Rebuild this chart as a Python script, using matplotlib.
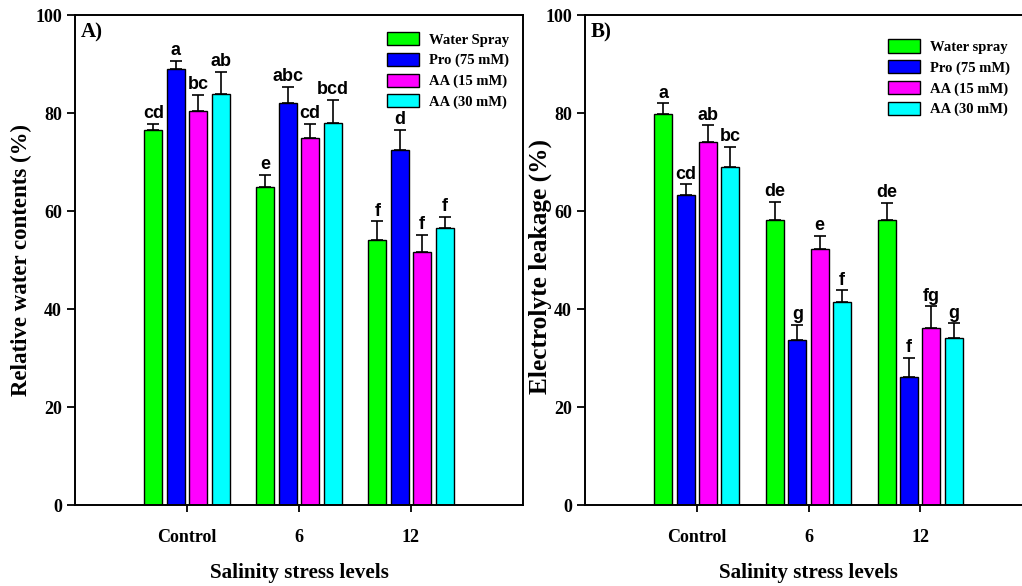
import numpy as np
import matplotlib
matplotlib.use("Agg")
from matplotlib import pyplot as plt

plt.rcParams["font.family"] = "Liberation Serif"
plt.rcParams["font.weight"] = "bold"

groups = ["Control", "6", "12"]
colors = ["#00FF00", "#0000FF", "#FF00FF", "#00FFFF"]

# Panel A - relative water contents
rwc_names = ["Water Spray", "Pro (75 mM)", "AA (15 mM)", "AA (30 mM)"]
rwc_mean = [
    [76.5, 64.9, 54.1],
    [88.9, 82.0, 72.5],
    [80.5, 75.0, 51.6],
    [83.9, 78.0, 56.5],
]
rwc_err = [
    [1.3, 2.5, 3.8],
    [1.8, 3.4, 4.1],
    [3.2, 2.8, 3.6],
    [4.5, 4.7, 2.3],
]
rwc_letters = [
    ["cd", "e", "f"],
    ["a", "abc", "d"],
    ["bc", "cd", "f"],
    ["ab", "bcd", "f"],
]

# Panel B - electrolyte leakage
el_names = ["Water spray", "Pro (75 mM)", "AA (15 mM)", "AA (30 mM)"]
el_mean = [
    [79.8, 58.2, 58.2],
    [63.3, 33.7, 26.2],
    [74.0, 52.2, 36.1],
    [68.9, 41.5, 34.0],
]
el_err = [
    [2.2, 3.7, 3.5],
    [2.2, 3.1, 3.9],
    [3.5, 2.8, 4.5],
    [4.2, 2.4, 3.1],
]
el_letters = [
    ["a", "de", "de"],
    ["cd", "g", "f"],
    ["ab", "e", "fg"],
    ["bc", "f", "g"],
]

W, H = 1022, 586
fig = plt.figure(figsize=(W / 100, H / 100), dpi=100)


def panel(rect, means, errs, letters, names, ylabel, tag, ylab_xy, ylab_size,
          leg_anchor, right_spine=True):
    ax = fig.add_axes(rect)
    x = np.arange(1, len(groups) + 1)
    offsets = [-0.3, -0.1, 0.1, 0.3]
    for i in range(4):
        xi = x + offsets[i]
        ax.bar(xi, means[i], width=0.16, color=colors[i], edgecolor="black",
               linewidth=1.0, label=names[i], zorder=2)
        ax.errorbar(xi, means[i], yerr=[np.zeros(3), errs[i]], fmt="none",
                    ecolor="black", elinewidth=1.2, capsize=4.5, capthick=1.2,
                    zorder=3)
        for j in range(3):
            ax.annotate(letters[i][j], (xi[j], means[i][j] + errs[i][j]),
                        xytext=(0, 1), textcoords="offset points",
                        ha="center", va="bottom", fontsize=13,
                        fontweight="bold", family="Liberation Sans")
    ax.set_xlim(0, 4)
    ax.set_ylim(0, 100)
    ax.set_xticks(x)
    ax.set_xticklabels(groups, fontsize=13)
    ax.set_yticks(np.arange(0, 101, 20))
    ax.tick_params(axis="y", labelsize=13, length=6, width=1.3, direction="out")
    ax.tick_params(axis="x", length=5, width=1.3, direction="out", pad=12)
    for s in ax.spines.values():
        s.set_linewidth(1.4)
    ax.spines["right"].set_visible(right_spine)
    ax.set_ylabel(ylabel, fontsize=ylab_size, fontweight="bold")
    ax.yaxis.set_label_coords(*ylab_xy)
    ax.set_xlabel("Salinity stress levels", fontsize=15.2, fontweight="bold")
    ax.xaxis.set_label_coords(0.5, -0.118)
    ax.text(0.012, 0.985, tag, transform=ax.transAxes, ha="left", va="top",
            fontsize=15, fontweight="bold")
    ax.legend(loc="upper left", bbox_to_anchor=leg_anchor, frameon=False,
              fontsize=10.5, handlelength=2.2, handleheight=1.0,
              labelspacing=0.42, handletextpad=0.7, borderaxespad=0)
    return ax


panel([75 / W, 81 / H, 448 / W, 490 / H], rwc_mean, rwc_err, rwc_letters,
      rwc_names, "Relative water contents (%)", "A)", (-0.096, 0.5), 16.5,
      (0.683, 0.977))
panel([585 / W, 81 / H, 447 / W, 490 / H], el_mean, el_err, el_letters,
      el_names, "Electrolyte leakage (%)", "B)", (-0.074, 0.486), 18.3,
      (0.665, 0.962), right_spine=False)

fig.savefig("out.png", dpi=100)
